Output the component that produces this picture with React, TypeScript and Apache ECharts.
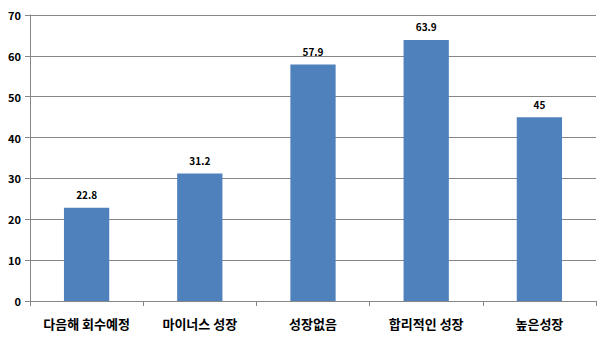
import React, { useEffect, useRef } from "react";
import * as echarts from "echarts";

const categories = ["다음해 회수예정", "마이너스 성장", "성장없음", "합리적인 성장", "높은성장"];
const values = [22.8, 31.2, 57.9, 63.9, 45];
const yTicks = { min: 0, max: 70, interval: 10 };

export default function App() {
  const ref = useRef<HTMLDivElement>(null);
  useEffect(() => {
    const chart = echarts.init(ref.current!, null, { renderer: "svg" });
    chart.setOption({
      animation: false,
      backgroundColor: "#ffffff",
      grid: { left: 30, right: 11, top: 15, bottom: 41 },
      xAxis: {
        type: "category",
        data: categories,
        axisLine: { lineStyle: { color: "#868686", width: 1 } },
        axisTick: { show: true, alignWithLabel: false, length: 5, lineStyle: { color: "#868686" } },
        axisLabel: {
          color: "#000",
          fontSize: 13,
          fontWeight: "bold",
          fontFamily: "Noto Sans CJK KR",
          margin: 16,
        },
      },
      yAxis: {
        type: "value",
        min: yTicks.min,
        max: yTicks.max,
        interval: yTicks.interval,
        axisLine: { show: true, lineStyle: { color: "#868686", width: 1 } },
        axisTick: { show: true, length: 5, lineStyle: { color: "#868686" } },
        splitLine: { lineStyle: { color: "#868686", width: 1 } },
        axisLabel: {
          color: "#000",
          fontSize: 11,
          fontWeight: "bold",
          fontFamily: "Noto Sans CJK KR",
          margin: 9,
        },
      },
      series: [
        {
          type: "bar",
          data: values,
          barWidth: "40%",
          itemStyle: { color: "#4F81BD" },
          label: {
            show: true,
            position: "top",
            distance: 8,
            color: "#000",
            fontSize: 10,
            fontWeight: "bold",
            fontFamily: "Noto Sans CJK KR",
          },
        },
      ],
    });
    return () => chart.dispose();
  }, []);
  return (
    <div
      ref={ref}
      style={{ position: "fixed", left: 0, top: 0, width: 607, height: 342 }}
    />
  );
}
